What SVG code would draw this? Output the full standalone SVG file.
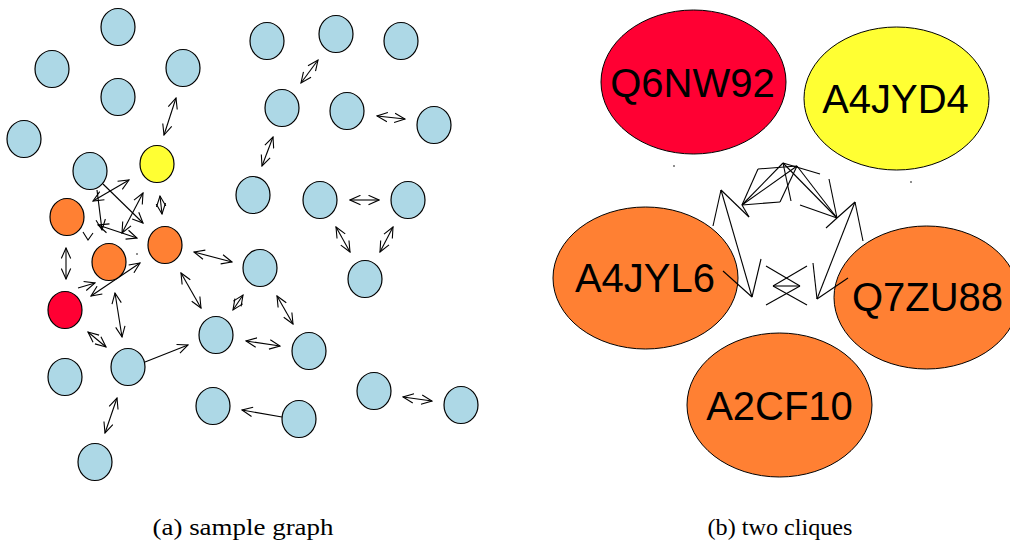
<svg xmlns="http://www.w3.org/2000/svg" width="1010" height="542" viewBox="0 0 1010 542">
<style>
.n{stroke:#000;stroke-width:1.2}
.b{fill:#ADD8E6}.y{fill:#FFFF33}.o{fill:#FF8033}.r{fill:#FF0033}
.big{stroke:#000;stroke-width:1}
.e line,.e path{stroke:#000;stroke-width:1.1;fill:none}
.d{marker-start:url(#ah);marker-end:url(#ah)}
.s{marker-end:url(#ah)}
.c line{stroke:#000;stroke-width:1.1}
.lbl{font-family:"Liberation Sans",Arial,sans-serif;font-size:40px;text-anchor:middle;fill:#000}
.cap{font-family:"Liberation Serif","Times New Roman",serif;font-size:24px;text-anchor:middle;fill:#000}
</style>
<defs>
<marker id="ah" markerUnits="userSpaceOnUse" viewBox="0 0 12 11" refX="11" refY="5.5" markerWidth="12" markerHeight="11" orient="auto-start-reverse">
<path d="M0.5,0.8 L11,5.5 L0.5,10.2" fill="none" stroke="#000" stroke-width="1.1"/>
</marker>
</defs>
<rect width="1010" height="542" fill="#fff"/>
<g id="connectors-a" class="e">
<line class="d" x1="176" y1="98" x2="164" y2="135"/>
<line class="d" x1="318" y1="60" x2="301" y2="83"/>
<line class="d" x1="377" y1="116" x2="405" y2="119"/>
<line class="d" x1="273" y1="137" x2="262" y2="166"/>
<line class="d" x1="350" y1="200" x2="379" y2="200"/>
<line class="d" x1="336" y1="227" x2="350" y2="252"/>
<line class="d" x1="393" y1="227" x2="380" y2="252"/>
<line class="d" x1="194" y1="252" x2="232" y2="262"/>
<line class="d" x1="181" y1="273" x2="201" y2="308"/>
<line class="d" x1="243" y1="295" x2="233" y2="310"/>
<line class="d" x1="277" y1="296" x2="293" y2="324"/>
<line class="d" x1="246" y1="341" x2="280" y2="346"/>
<line class="d" x1="88" y1="332" x2="106" y2="347"/>
<line class="s" x1="145" y1="362" x2="188" y2="345"/>
<line class="d" x1="117" y1="398" x2="105" y2="433"/>
<line class="s" x1="282" y1="417" x2="242" y2="410"/>
<line class="d" x1="403" y1="397" x2="432" y2="401"/>
<line class="d" x1="66" y1="248" x2="66" y2="279"/>
<line class="d" x1="140" y1="263" x2="91" y2="296"/>
<line class="d" x1="115" y1="293" x2="122" y2="337"/>
<line class="d" x1="160" y1="196" x2="162" y2="214"/>
<line class="s" x1="103" y1="184" x2="143" y2="223"/>
<line class="d" x1="93" y1="201" x2="129" y2="180"/>
<line class="s" x1="97" y1="190" x2="102" y2="230"/>
<line class="d" x1="98" y1="225" x2="137" y2="238"/>
<line class="d" x1="122" y1="233" x2="143" y2="193"/>
<line class="s" x1="78" y1="288" x2="95" y2="283"/>
<path d="M83,232 L88,240 L93,233"/>
<circle cx="137" cy="254" r="0.8" fill="#000"/>
</g>
<g id="nodes-a">
<g id="a1"><ellipse class="n b" cx="118" cy="27" rx="17" ry="18.5"/></g>
<g id="a2"><ellipse class="n b" cx="52" cy="69" rx="17" ry="18.5"/></g>
<g id="a3"><ellipse class="n b" cx="183" cy="68" rx="17" ry="18.5"/></g>
<g id="a4"><ellipse class="n b" cx="118" cy="97" rx="17" ry="18.5"/></g>
<g id="a5"><ellipse class="n b" cx="24" cy="139" rx="17" ry="18.5"/></g>
<g id="a6"><ellipse class="n b" cx="267" cy="41" rx="17" ry="18.5"/></g>
<g id="a7"><ellipse class="n b" cx="336" cy="34" rx="17" ry="18.5"/></g>
<g id="a8"><ellipse class="n b" cx="401" cy="41" rx="17" ry="18.5"/></g>
<g id="a9"><ellipse class="n b" cx="282" cy="108" rx="17" ry="18.5"/></g>
<g id="a10"><ellipse class="n b" cx="347" cy="111" rx="17" ry="18.5"/></g>
<g id="a11"><ellipse class="n b" cx="434" cy="125" rx="17" ry="18.5"/></g>
<g id="a12"><ellipse class="n b" cx="90" cy="171" rx="17" ry="18.5"/></g>
<g id="a13"><ellipse class="n b" cx="253" cy="195" rx="17" ry="18.5"/></g>
<g id="a14"><ellipse class="n b" cx="320" cy="200" rx="17" ry="18.5"/></g>
<g id="a15"><ellipse class="n b" cx="408" cy="200" rx="17" ry="18.5"/></g>
<g id="a16"><ellipse class="n b" cx="365" cy="279" rx="17" ry="18.5"/></g>
<g id="a17"><ellipse class="n b" cx="260" cy="268" rx="17" ry="18.5"/></g>
<g id="a18"><ellipse class="n b" cx="216" cy="335" rx="17" ry="18.5"/></g>
<g id="a19"><ellipse class="n b" cx="309" cy="351" rx="17" ry="18.5"/></g>
<g id="a20"><ellipse class="n b" cx="65" cy="377" rx="17" ry="18.5"/></g>
<g id="a21"><ellipse class="n b" cx="128" cy="367" rx="17" ry="18.5"/></g>
<g id="a22"><ellipse class="n b" cx="213" cy="406" rx="17" ry="18.5"/></g>
<g id="a23"><ellipse class="n b" cx="299" cy="419" rx="17" ry="18.5"/></g>
<g id="a24"><ellipse class="n b" cx="374" cy="391" rx="17" ry="18.5"/></g>
<g id="a25"><ellipse class="n b" cx="461" cy="405" rx="17" ry="18.5"/></g>
<g id="a26"><ellipse class="n b" cx="95" cy="462" rx="17" ry="18.5"/></g>
<g id="a27"><ellipse class="n y" cx="157" cy="164" rx="17" ry="18.5"/></g>
<g id="a28"><ellipse class="n o" cx="67" cy="217" rx="17" ry="18.5"/></g>
<g id="a29"><ellipse class="n o" cx="109" cy="262" rx="17" ry="18.5"/></g>
<g id="a30"><ellipse class="n o" cx="165" cy="245" rx="17" ry="18.5"/></g>
<g id="a31"><ellipse class="n r" cx="65" cy="310" rx="17" ry="18.5"/></g>
</g>
<g id="nodes-b">
<g id="Q6NW92"><ellipse class="big r" cx="693.5" cy="82" rx="92.5" ry="72"/><text class="lbl" x="692.5" y="97">Q6NW92</text></g>
<g id="A4JYD4"><ellipse class="big y" cx="896.5" cy="98.5" rx="92.5" ry="71.5"/><text class="lbl" x="895.5" y="113">A4JYD4</text></g>
<g id="A4JYL6"><ellipse class="big o" cx="645.5" cy="278" rx="92.5" ry="71"/><text class="lbl" x="645" y="292">A4JYL6</text></g>
<g id="Q7ZU88"><ellipse class="big o" cx="926.5" cy="297.5" rx="92.5" ry="71.5"/><text class="lbl" x="927.5" y="311">Q7ZU88</text></g>
<g id="A2CF10"><ellipse class="big o" cx="779.5" cy="405" rx="92.5" ry="72"/><text class="lbl" x="779.5" y="420">A2CF10</text></g>
</g>
<g id="connectors-b" class="c">
<line x1="758" y1="169" x2="797" y2="166"/>
<line x1="758" y1="169" x2="742" y2="205"/>
<line x1="742" y1="205" x2="797" y2="166"/>
<line x1="742" y1="205" x2="783" y2="163"/>
<line x1="742" y1="205" x2="780" y2="202"/>
<line x1="780" y1="202" x2="797" y2="166"/>
<line x1="783" y1="163" x2="820" y2="174"/>
<line x1="783" y1="163" x2="791" y2="201"/>
<line x1="797" y1="166" x2="837" y2="218"/>
<line x1="783" y1="163" x2="837" y2="218"/>
<line x1="742" y1="205" x2="749" y2="217"/>
<line x1="829" y1="179" x2="837" y2="218"/>
<line x1="800" y1="205" x2="837" y2="218"/>
<line x1="837" y1="218" x2="826" y2="228"/>
<line x1="837" y1="218" x2="855" y2="202"/>
<line x1="855" y1="202" x2="863" y2="241"/>
<line x1="855" y1="202" x2="817" y2="299"/>
<line x1="813" y1="263" x2="817" y2="299"/>
<line x1="817" y1="299" x2="848" y2="278"/>
<line x1="721" y1="190" x2="713" y2="226"/>
<line x1="721" y1="190" x2="749" y2="217"/>
<line x1="721" y1="190" x2="752" y2="297"/>
<line x1="752" y1="297" x2="761" y2="259"/>
<line x1="752" y1="297" x2="723" y2="271"/>
<line x1="766" y1="266" x2="800" y2="286"/>
<line x1="807" y1="266" x2="773" y2="286"/>
<line x1="773" y1="286" x2="800" y2="286"/>
<line x1="773" y1="286" x2="807" y2="305"/>
<line x1="800" y1="286" x2="766" y2="305"/>
<circle cx="674" cy="166" r="0.8" fill="#000"/>
<circle cx="911" cy="182" r="0.8" fill="#000"/>
</g>
<text class="cap" x="243" y="535" textLength="181" lengthAdjust="spacingAndGlyphs">(a) sample graph</text>
<text class="cap" x="780" y="535" textLength="145" lengthAdjust="spacingAndGlyphs">(b) two cliques</text>
</svg>
